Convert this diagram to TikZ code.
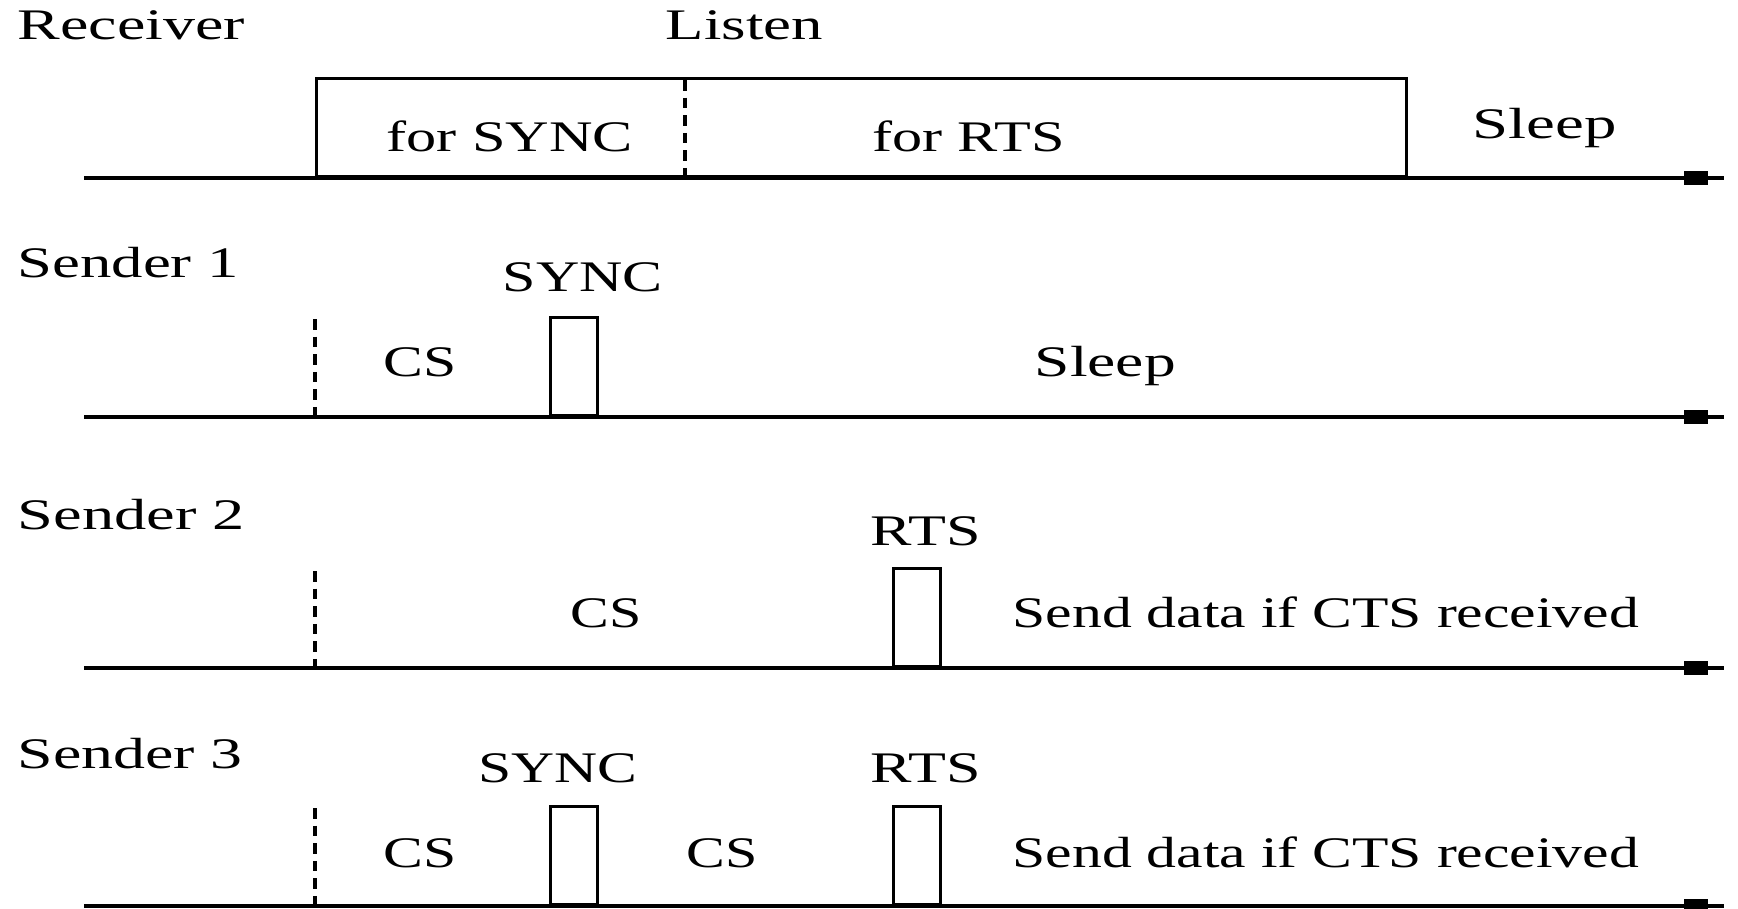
\documentclass[tikz,border=0pt]{standalone}
\usepackage{fontspec}
\setmainfont{Liberation Serif}
\usetikzlibrary{arrows.meta}
\newcommand{\stretchtxt}[2]{\resizebox{#1}{\height}{#2}}
\begin{document}
\begin{tikzpicture}[x=0.01cm,y=-0.01cm,
  lbl/.style={inner sep=0pt,anchor=base west,font=\fontsize{12.4}{14}\selectfont},
  axisline/.style={line width=0.9pt,-{Rectangle[length=7pt,width=4pt] Rectangle[length=4.5pt,width=1.2pt]}},
  pulse/.style={draw,line width=0.9pt,inner sep=0pt,anchor=south west,minimum width=0.47cm,minimum height=0.98cm},
  guide/.style={line width=0.9pt,dash pattern=on 3pt off 2pt}]
\useasboundingbox (0,0) rectangle (1738,908);
\clip (0,0) rectangle (1738,908);

% ---------- Receiver ----------
\node[lbl] (rcv) at (17,39) {\stretchtxt{2.27cm}{Receiver}};
\node[lbl] (listen) at (665,39) {\stretchtxt{1.57cm}{Listen}};
\node[draw,line width=0.9pt,inner sep=0pt,anchor=south west,minimum width=10.89cm,minimum height=0.98cm] (listenbox) at (315,178) {};
\coordinate (divtop) at (685,80);
\coordinate (divbot) at (685,178);
\draw[guide] (divtop) -- (divbot);
\node[lbl] (forsync) at (386,151) {\stretchtxt{2.46cm}{for SYNC}};
\node[lbl] (forrts) at (872,151) {\stretchtxt{1.92cm}{for RTS}};
\node[lbl] (rsleep) at (1472,138) {\stretchtxt{1.44cm}{Sleep}};
\coordinate (a1s) at (84,178);
\coordinate (a1e) at (1724,178);
\draw[axisline] (a1s) -- (a1e);

% ---------- Sender 1 ----------
\node[lbl] (s1) at (17,277) {\stretchtxt{2.21cm}{Sender 1}};
\node[lbl] (s1synclbl) at (502,291) {\stretchtxt{1.60cm}{SYNC}};
\coordinate (d1t) at (315,319);
\coordinate (d1b) at (315,417);
\draw[guide] (d1t) -- (d1b);
\node[lbl] (s1cs) at (383,376) {\stretchtxt{0.73cm}{CS}};
\node[pulse] (s1sync) at (549,417) {};
\node[lbl] (s1sleep) at (1034,376) {\stretchtxt{1.41cm}{Sleep}};
\coordinate (a2s) at (84,417);
\coordinate (a2e) at (1724,417);
\draw[axisline] (a2s) -- (a2e);

% ---------- Sender 2 ----------
\node[lbl] (s2) at (17,529) {\stretchtxt{2.27cm}{Sender 2}};
\node[lbl] (s2rtslbl) at (870,545) {\stretchtxt{1.10cm}{RTS}};
\coordinate (d2t) at (315,571);
\coordinate (d2b) at (315,668);
\draw[guide] (d2t) -- (d2b);
\node[lbl] (s2cs) at (570,627) {\stretchtxt{0.71cm}{CS}};
\node[pulse] (s2rts) at (892,668) {};
\node[lbl] (s2send) at (1012,627) {\stretchtxt{6.26cm}{Send data if CTS received}};
\coordinate (a3s) at (84,668);
\coordinate (a3e) at (1724,668);
\draw[axisline] (a3s) -- (a3e);

% ---------- Sender 3 ----------
\node[lbl] (s3) at (17,768) {\stretchtxt{2.25cm}{Sender 3}};
\node[lbl] (s3synclbl) at (478,782) {\stretchtxt{1.59cm}{SYNC}};
\node[lbl] (s3rtslbl) at (870,782) {\stretchtxt{1.10cm}{RTS}};
\coordinate (d3t) at (315,808);
\coordinate (d3b) at (315,906);
\draw[guide] (d3t) -- (d3b);
\node[lbl] (s3csa) at (383,867) {\stretchtxt{0.73cm}{CS}};
\node[pulse] (s3sync) at (549,906) {};
\node[lbl] (s3csb) at (686,867) {\stretchtxt{0.71cm}{CS}};
\node[pulse] (s3rts) at (892,906) {};
\node[lbl] (s3send) at (1012,867) {\stretchtxt{6.26cm}{Send data if CTS received}};
\coordinate (a4s) at (84,906);
\coordinate (a4e) at (1724,906);
\draw[axisline] (a4s) -- (a4e);
\end{tikzpicture}
\end{document}
